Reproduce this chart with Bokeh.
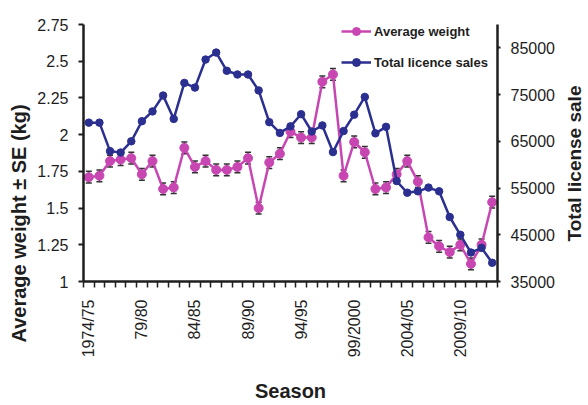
import math
from bokeh.plotting import figure
from bokeh.layouts import row
from bokeh.models import (Range1d, LinearAxis, FixedTicker, ColumnDataSource, Whisker,
                          TeeHead, Legend, LegendItem, Title, NumeralTickFormatter)
from bokeh.embed import file_html
from bokeh.resources import INLINE

# ---------------- data ----------------
seasons = ["1974/75", "1975/76", "1976/77", "1977/78", "1978/79", "1979/80", "1980/81",
           "1981/82", "1982/83", "1983/84", "1984/85", "1985/86", "1986/87", "1987/88",
           "1988/89", "1989/90", "1990/91", "1991/92", "1992/93", "1993/94", "1994/95",
           "1995/96", "1996/97", "1997/98", "1998/99", "1999/2000", "2000/01", "2001/02",
           "2002/03", "2003/04", "2004/05", "2005/06", "2006/07", "2007/08", "2008/09",
           "2009/10", "2010/11", "2011/12", "2012/13"]

avg_weight = [1.71, 1.72, 1.82, 1.83, 1.84, 1.73, 1.82, 1.63, 1.64, 1.91,
              1.78, 1.82, 1.76, 1.76, 1.78, 1.84, 1.50, 1.81, 1.87, 2.02,
              1.98, 1.98, 2.36, 2.41, 1.72, 1.95, 1.88, 1.63, 1.64, 1.73,
              1.82, 1.68, 1.30, 1.24, 1.20, 1.25, 1.12, 1.25, 1.54]

weight_se = [0.04, 0.04, 0.04, 0.04, 0.04, 0.04, 0.04, 0.04, 0.04, 0.04,
             0.04, 0.04, 0.04, 0.04, 0.04, 0.04, 0.04, 0.04, 0.04, 0.04,
             0.04, 0.04, 0.04, 0.04, 0.04, 0.04, 0.04, 0.04, 0.04, 0.04,
             0.04, 0.04, 0.04, 0.04, 0.04, 0.04, 0.04, 0.04, 0.04]

licence_sales = [69000, 69000, 62900, 62600, 65000, 69300, 71400, 74800, 69800, 77500,
                 76500, 82500, 84000, 80100, 79300, 79300, 75900, 69100, 66800, 68200,
                 70800, 67100, 68400, 62700, 67200, 70700, 74500, 66700, 68100, 56500,
                 54000, 54300, 55100, 54300, 48800, 45000, 41200, 42200, 39000]

tick_seasons = ["1974/75", "1979/80", "1984/85", "1989/90", "1994/95", "1999/2000",
                "2004/05", "2009/10"]
tick_labels = ["1974/75", "79/80", "84/85", "89/90", "94/95", "99/2000", "2004/05", "2009/10"]

weight_ticks = [1, 1.25, 1.5, 1.75, 2, 2.25, 2.5, 2.75]
sales_ticks = [35000, 45000, 55000, 65000, 75000, 85000]
sales_max = 90000

# ---------------- styles ----------------
PINK = "#C846B2"
BLUE = "#2B2F8F"
AXIS = "#1e1e1e"
TEXT = "#1e1e1e"
FONT = "Liberation Sans"

idx = list(range(len(seasons)))
src = ColumnDataSource(dict(
    x=idx, w=avg_weight,
    up=[a + s for a, s in zip(avg_weight, weight_se)],
    lo=[a - s for a, s in zip(avg_weight, weight_se)],
    sales=licence_sales,
))

p = figure(width=557, height=405, output_backend="svg", toolbar_location=None,
           x_range=Range1d(-0.5, len(seasons) - 0.5),
           y_range=Range1d(weight_ticks[0], weight_ticks[-1]),
           min_border_left=82, min_border_right=58, min_border_top=24, min_border_bottom=115,
           x_axis_location=None, y_axis_location=None)
p.outline_line_color = None
p.xgrid.visible = False
p.ygrid.visible = False
p.background_fill_color = "white"
p.border_fill_color = "white"
p.extra_y_ranges = {"sales": Range1d(sales_ticks[0], sales_max)}

# bottom axis
tick_pos = [seasons.index(s) for s in tick_seasons]
xax = LinearAxis(ticker=FixedTicker(ticks=tick_pos,
                                    minor_ticks=[i - 0.5 for i in range(len(seasons) + 1)]))
xax.major_label_overrides = {pos: lab for pos, lab in zip(tick_pos, tick_labels)}
xax.major_label_orientation = math.pi / 2
xax.major_tick_out = 0
xax.major_tick_in = 0
xax.minor_tick_out = 6
xax.minor_tick_in = 0
xax.minor_tick_line_width = 1.5
xax.minor_tick_line_color = AXIS
xax.axis_line_width = 2.5
xax.axis_line_color = AXIS
xax.major_label_standoff = 12
xax.major_label_text_font = FONT
xax.major_label_text_font_size = "16px"
xax.major_label_text_color = TEXT
xax.axis_label = "Season"
xax.axis_label_standoff = 20
xax.axis_label_text_font = FONT
xax.axis_label_text_font_size = "20px"
xax.axis_label_text_font_style = "bold"
xax.axis_label_text_color = TEXT
p.add_layout(xax, "below")

# left axis
yax = LinearAxis(ticker=FixedTicker(ticks=weight_ticks),
                 formatter=NumeralTickFormatter(format="0.[00]"))
yax.major_tick_out = 5
yax.major_tick_in = 0
yax.major_tick_line_width = 2
yax.major_tick_line_color = AXIS
yax.minor_tick_line_color = None
yax.axis_line_width = 2.5
yax.axis_line_color = AXIS
yax.major_label_standoff = 10
yax.major_label_text_font = FONT
yax.major_label_text_font_size = "16px"
yax.major_label_text_color = TEXT
p.add_layout(yax, "left")

# left axis title (sits lower than centre, as in the original)
p.add_layout(Title(text="Average weight ± SE (kg)", align="left", offset=-61,
                   standoff=10, text_font=FONT, text_font_size="20px",
                   text_font_style="bold", text_color=TEXT), "left")

# right axis
rax = LinearAxis(y_range_name="sales", ticker=FixedTicker(ticks=sales_ticks))
rax.major_tick_out = 3
rax.major_tick_in = 0
rax.major_tick_line_width = 2
rax.major_tick_line_color = AXIS
rax.minor_tick_line_color = None
rax.axis_line_width = 2.5
rax.axis_line_color = AXIS
rax.major_label_standoff = 10
rax.major_label_text_font = FONT
rax.major_label_text_font_size = "16px"
rax.major_label_text_color = TEXT
p.add_layout(rax, "right")

# error bars
wh = Whisker(source=src, base="x", upper="up", lower="lo",
             line_color="#333333", line_width=1.2,
             upper_head=TeeHead(size=6, line_color="#333333", line_width=1.5),
             lower_head=TeeHead(size=6, line_color="#333333", line_width=1.5))
p.add_layout(wh)

# series
pl = p.line("x", "w", source=src, line_color=PINK, line_width=2.5)
ps = p.scatter("x", "w", source=src, size=9, fill_color=PINK, line_color=PINK)
bl = p.line("x", "sales", source=src, y_range_name="sales", line_color=BLUE, line_width=2.5)
bs = p.scatter("x", "sales", source=src, y_range_name="sales", size=7.5,
               fill_color=BLUE, line_color=BLUE)

legend = Legend(items=[LegendItem(label="Average weight", renderers=[pl, ps]),
                       LegendItem(label="Total licence sales", renderers=[bl, bs])],
                location=(258, 209), padding=0, margin=0, spacing=11,
                label_height=20, glyph_height=20, glyph_width=30, label_standoff=3,
                border_line_color=None, background_fill_alpha=0,
                label_text_font=FONT, label_text_font_size="13px",
                label_text_font_style="bold", label_text_color=TEXT)
p.add_layout(legend, "center")

# narrow companion canvas carrying the right-hand axis title (reads bottom-to-top)
p2 = figure(width=31, height=405, output_backend="svg", toolbar_location=None,
            min_border_left=0, min_border_right=0, min_border_top=24, min_border_bottom=115,
            x_axis_location=None, y_axis_location=None)
p2.outline_line_color = None
p2.xgrid.visible = False
p2.ygrid.visible = False
p2.background_fill_color = "white"
p2.border_fill_color = "white"
p2.add_layout(Title(text="Total license sale", align="left", offset=40,
                    standoff=8, text_font=FONT, text_font_size="19px",
                    text_font_style="bold", text_color=TEXT), "left")

layout = row(p, p2, spacing=0)
open("out.html", "w").write(file_html(layout, INLINE))
